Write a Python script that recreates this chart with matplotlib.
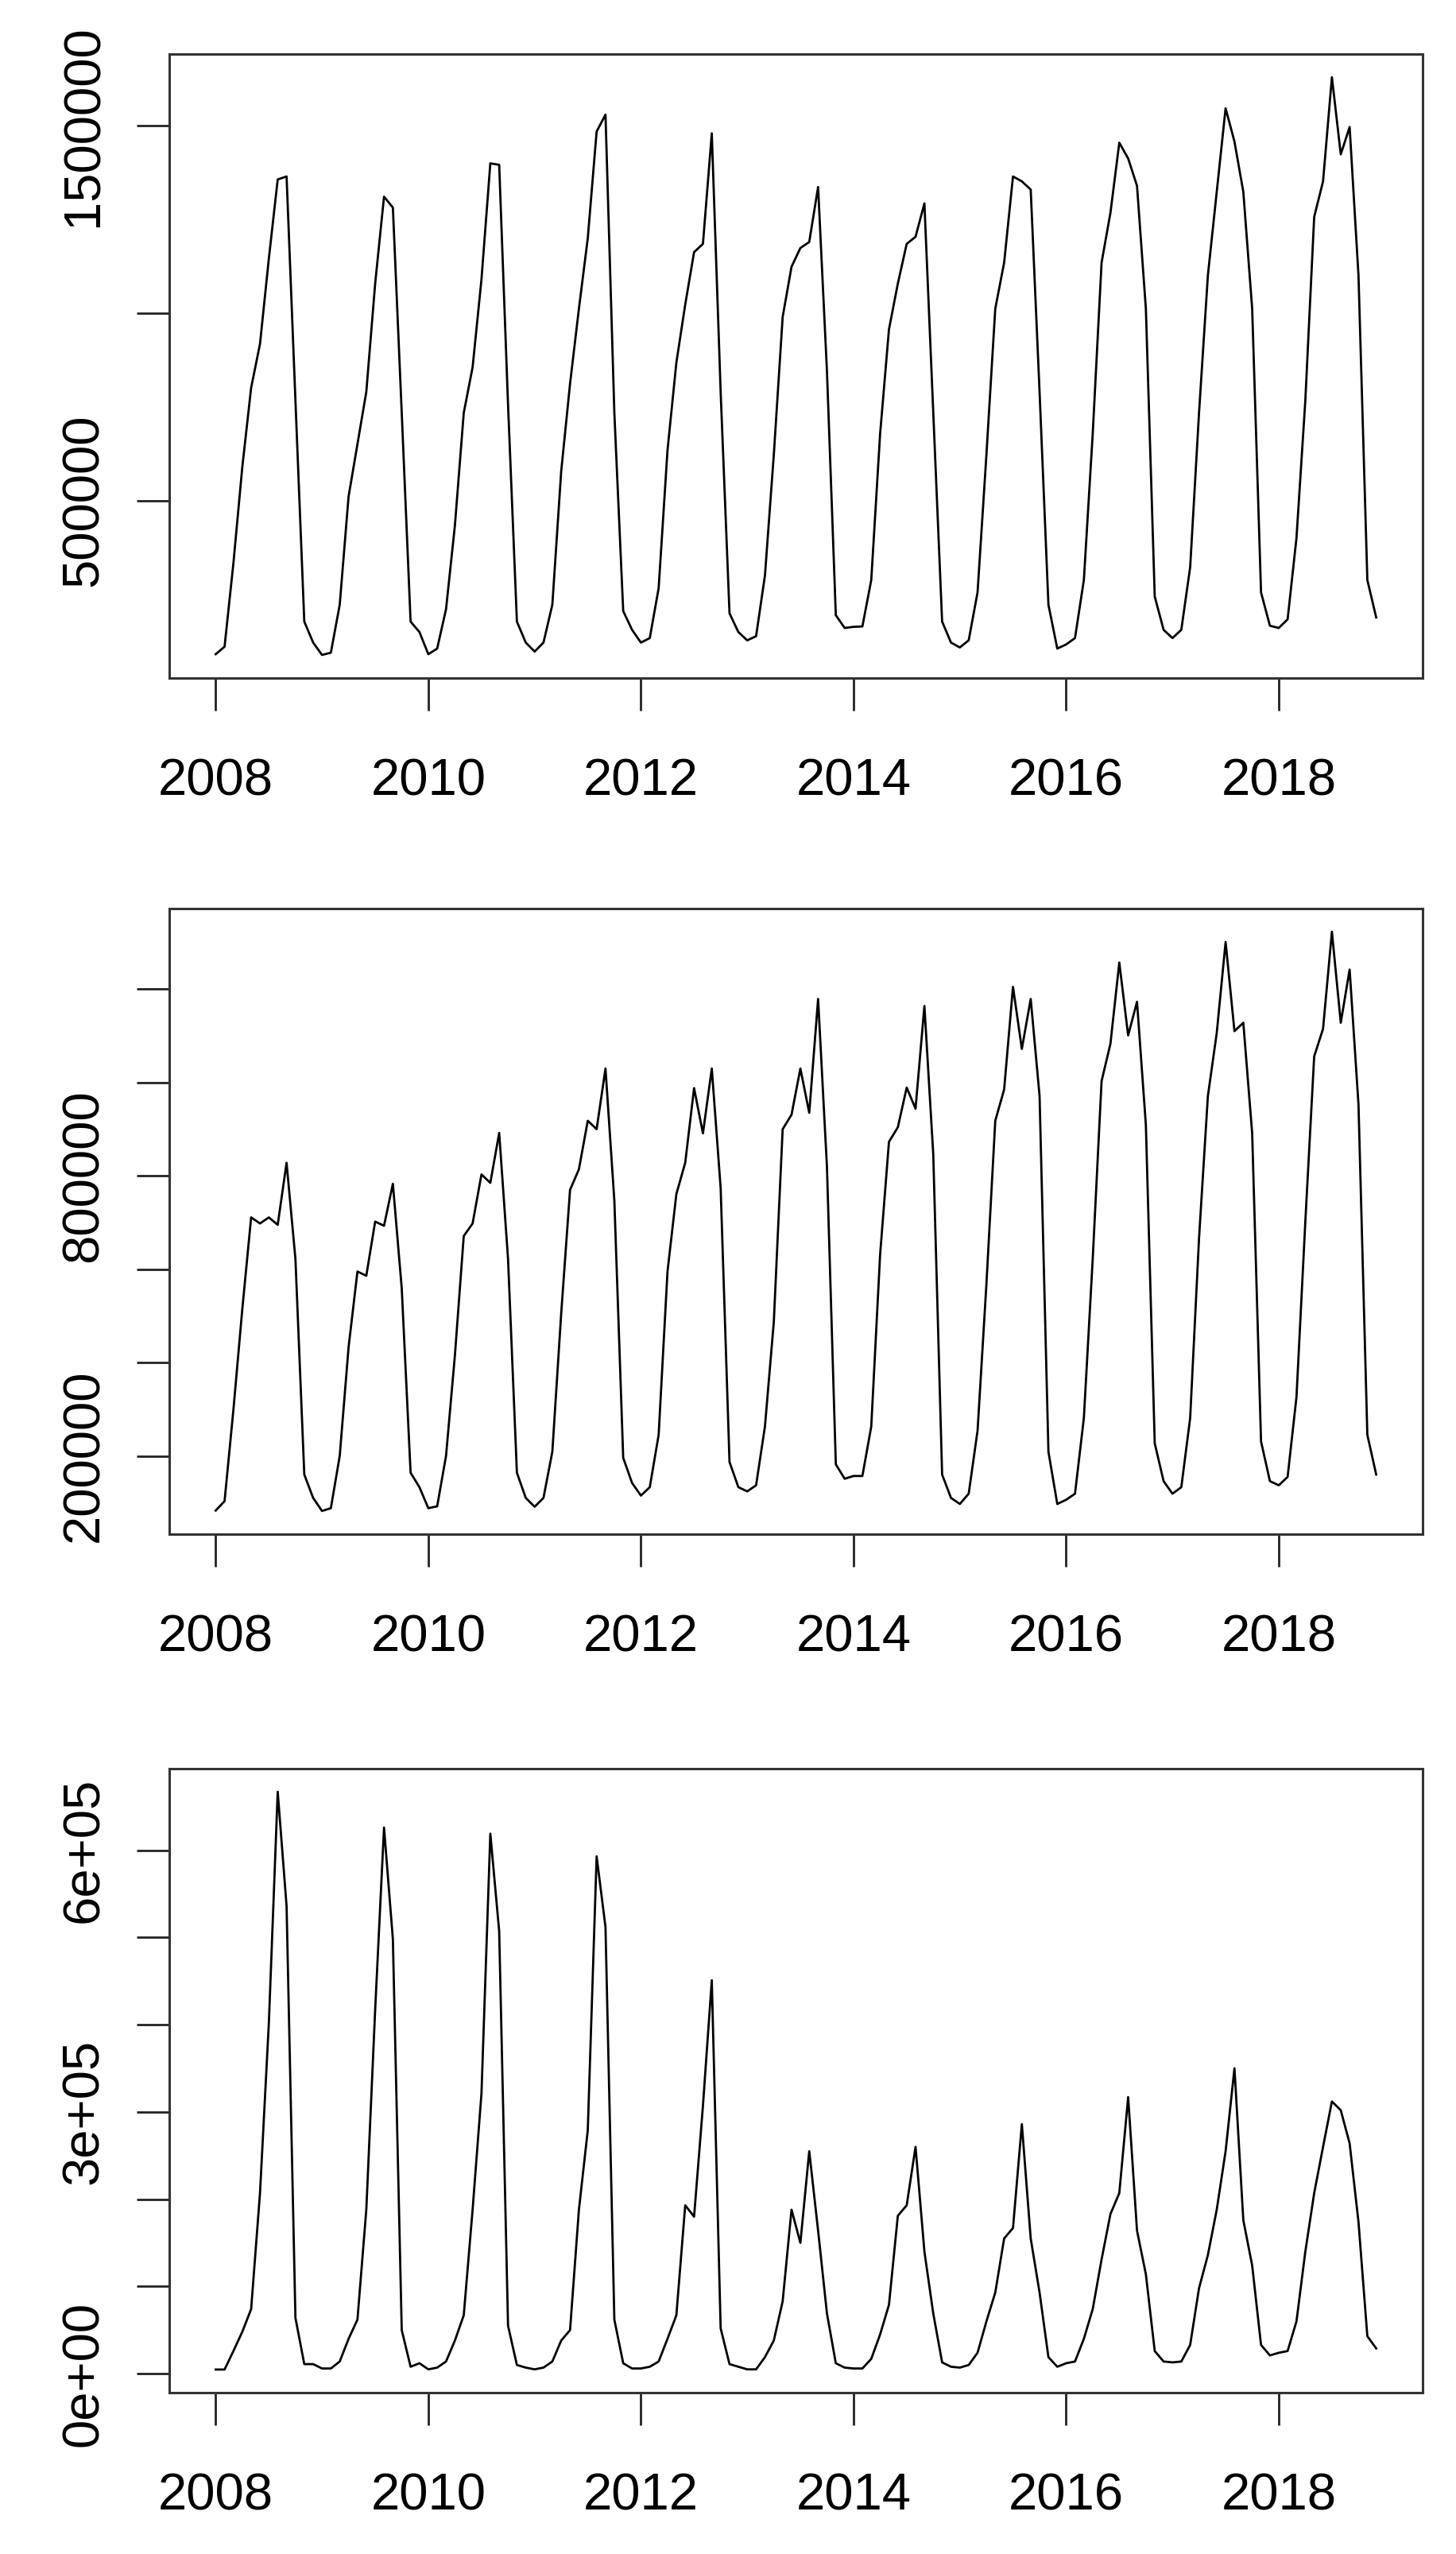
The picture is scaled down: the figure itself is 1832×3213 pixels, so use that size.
import numpy as np
import matplotlib.pyplot as plt

plt.rcParams['font.family'] = ['Liberation Sans', 'DejaVu Sans']

# monthly series, Jan 2008 .. Dec 2018
start_year = 2008

# top panel (total)
total = [
    90e3, 110e3, 333e3, 589e3, 801e3, 918e3, 1146e3, 1357e3, 1365e3, 767e3, 177e3, 121e3,
    88e3, 94e3, 222e3, 511e3, 650e3, 790e3, 1079e3, 1311e3, 1282e3, 734e3, 177e3, 149e3,
    90e3, 105e3, 210e3, 433e3, 734e3, 856e3, 1090e3, 1400e3, 1396e3, 756e3, 177e3, 121e3,
    97e3, 121e3, 222e3, 578e3, 812e3, 1012e3, 1200e3, 1485e3, 1530e3, 734e3, 205e3, 155e3,
    121e3, 133e3, 266e3, 634e3, 868e3, 1023e3, 1163e3, 1185e3, 1480e3, 790e3, 199e3, 149e3,
    127e3, 138e3, 300e3, 622e3, 990e3, 1124e3, 1174e3, 1190e3, 1337e3, 845e3, 194e3, 160e3,
    163e3, 164e3, 288e3, 678e3, 957e3, 1079e3, 1185e3, 1204e3, 1293e3, 734e3, 177e3, 121e3,
    108e3, 127e3, 255e3, 622e3, 1012e3, 1135e3, 1365e3, 1352e3, 1330e3, 790e3, 222e3, 105e3,
    116e3, 133e3, 288e3, 678e3, 1135e3, 1268e3, 1455e3, 1413e3, 1340e3, 1012e3, 244e3, 155e3,
    133e3, 155e3, 322e3, 734e3, 1101e3, 1324e3, 1547e3, 1458e3, 1324e3, 1012e3, 255e3, 166e3,
    160e3, 183e3, 400e3, 767e3, 1257e3, 1352e3, 1630e3, 1424e3, 1497e3, 1101e3, 288e3, 188e3,
]

# middle panel
middle = [
    83e3, 103e3, 299e3, 514e3, 711e3, 698e3, 711e3, 695e3, 828e3, 622e3, 160e3, 110e3,
    82e3, 88e3, 200e3, 433e3, 595e3, 586e3, 702e3, 693e3, 783e3, 559e3, 164e3, 133e3,
    88e3, 92e3, 200e3, 415e3, 671e3, 698e3, 803e3, 785e3, 892e3, 622e3, 164e3, 110e3,
    91e3, 110e3, 209e3, 505e3, 770e3, 814e3, 918e3, 900e3, 1030e3, 747e3, 196e3, 142e3,
    115e3, 133e3, 245e3, 595e3, 761e3, 828e3, 988e3, 891e3, 1030e3, 774e3, 187e3, 133e3,
    124e3, 137e3, 263e3, 487e3, 900e3, 931e3, 1030e3, 935e3, 1179e3, 819e3, 182e3, 151e3,
    157e3, 157e3, 263e3, 631e3, 873e3, 904e3, 989e3, 944e3, 1164e3, 846e3, 160e3, 110e3,
    97e3, 119e3, 254e3, 568e3, 918e3, 985e3, 1205e3, 1072e3, 1179e3, 971e3, 209e3, 97e3,
    106e3, 119e3, 281e3, 622e3, 1003e3, 1083e3, 1257e3, 1101e3, 1173e3, 909e3, 227e3, 146e3,
    119e3, 133e3, 281e3, 666e3, 971e3, 1106e3, 1301e3, 1110e3, 1128e3, 891e3, 231e3, 146e3,
    137e3, 155e3, 326e3, 702e3, 1056e3, 1115e3, 1323e3, 1128e3, 1242e3, 953e3, 245e3, 160e3,
]

# bottom panel
bottom = [
    4.8e3, 4.8e3, 26e3, 48e3, 74e3, 207e3, 402e3, 667e3, 536e3, 64e3, 11e3, 11e3,
    6e3, 6e3, 14e3, 40e3, 62e3, 188e3, 417e3, 626e3, 498e3, 50e3, 8e3, 12e3,
    5e3, 7e3, 14e3, 38e3, 67e3, 188e3, 321e3, 619e3, 507e3, 55e3, 10e3, 7e3,
    5e3, 7e3, 14e3, 38e3, 50e3, 188e3, 279e3, 593e3, 512e3, 62e3, 12e3, 6e3,
    6e3, 8e3, 14e3, 40e3, 67e3, 193e3, 180e3, 307e3, 451e3, 52e3, 11e3, 8e3,
    5e3, 5e3, 19e3, 38e3, 83e3, 188e3, 150e3, 255e3, 164e3, 69e3, 12e3, 7e3,
    6e3, 6e3, 17e3, 45e3, 79e3, 181e3, 193e3, 260e3, 140e3, 69e3, 13e3, 8e3,
    7e3, 10e3, 24e3, 60e3, 93e3, 155e3, 167e3, 286e3, 155e3, 93e3, 19e3, 8e3,
    12e3, 14e3, 40e3, 74e3, 131e3, 183e3, 207e3, 317e3, 164e3, 114e3, 26e3, 14e3,
    13e3, 14e3, 33e3, 98e3, 136e3, 188e3, 255e3, 350e3, 176e3, 124e3, 33e3, 21e3,
    24e3, 26e3, 60e3, 140e3, 207e3, 260e3, 312e3, 302e3, 264e3, 174e3, 43e3, 29e3,
]

year_ticks = [2008, 2010, 2012, 2014, 2016, 2018]

top_ticks = [500000, 1000000, 1500000]
top_labels = ['500000', '', '1500000']
mid_ticks = [200000, 400000, 600000, 800000, 1000000, 1200000]
mid_labels = ['200000', '', '', '800000', '', '']
bot_ticks = [0, 100000, 200000, 300000, 400000, 500000, 600000]
bot_labels = ['0e+00', '', '', '3e+05', '', '', '6e+05']

W, H = 1833, 3213
fig = plt.figure(figsize=(W / 100, H / 100), dpi=100)

# axes boxes in pixels: (left, top, right, bottom)
boxes = [(213, 68, 1790, 853), (213, 1143, 1790, 1930), (213, 2225, 1790, 3010)]
panels = [(total, top_ticks, top_labels),
          (middle, mid_ticks, mid_labels),
          (bottom, bot_ticks, bot_labels)]

for (l, t, r, b), (values, yt, yl) in zip(boxes, panels):
    ax = fig.add_axes([l / W, 1 - b / H, (r - l) / W, (b - t) / H])
    x = start_year + np.arange(len(values)) / 12
    ax.plot(x, values, color='black', lw=2.0)
    ax.margins(x=0.04, y=0.04)

    ax.set_xticks(year_ticks)
    ax.set_xticklabels([str(y) for y in year_ticks])
    ax.set_yticks(yt)
    ax.set_yticklabels(yl, rotation=90, va='center')

    ax.tick_params(axis='both', direction='out', length=29.5, width=2.0,
                   labelsize=47, color='#222222')
    ax.tick_params(axis='x', pad=43)
    ax.tick_params(axis='y', pad=26)
    for s in ax.spines.values():
        s.set_linewidth(2.2)
        s.set_color('#333333')

fig.savefig('out.png', dpi=100, facecolor='white')
